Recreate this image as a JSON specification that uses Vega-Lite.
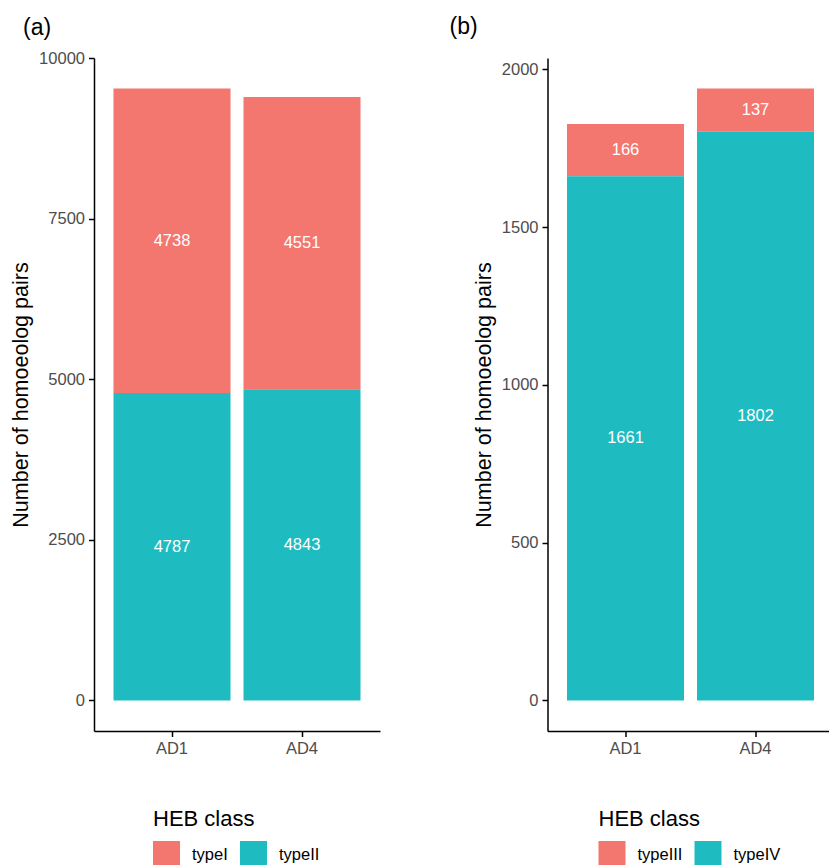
{
  "$schema": "https://vega.github.io/schema/vega-lite/v6.json",
  "background": "white",
  "padding": {"left": 10, "top": 16, "right": 0, "bottom": 0},
  "datasets": {
    "a": [
      {"sample": "AD1", "type": "typeI", "n": 4738},
      {"sample": "AD1", "type": "typeII", "n": 4787},
      {"sample": "AD4", "type": "typeI", "n": 4551},
      {"sample": "AD4", "type": "typeII", "n": 4843}
    ],
    "b": [
      {"sample": "AD1", "type": "typeIII", "n": 166},
      {"sample": "AD1", "type": "typeIV", "n": 1661},
      {"sample": "AD4", "type": "typeIII", "n": 137},
      {"sample": "AD4", "type": "typeIV", "n": 1802}
    ]
  },
  "bounds": "flush",
  "spacing": 167.5,
  "resolve": {"scale": {"color": "independent", "y": "independent", "x": "independent"}, "legend": {"color": "independent"}},
  "hconcat": [
    {
      "title": {"text": "(a)", "anchor": "start", "frame": "group", "dx": -71},
      "width": 286,
      "height": 673,
      "data": {"name": "a"},
      "transform": [
        {"stack": "n", "groupby": ["sample"], "sort": [{"field": "type", "order": "descending"}], "as": ["y0", "y1"]},
        {"calculate": "(datum.y0 + datum.y1) / 2", "as": "ymid"}
      ],
      "encoding": {
        "x": {"field": "sample", "type": "nominal", "scale": {"paddingInner": 0.1, "paddingOuter": 0.15}, "axis": {"title": null, "labelAngle": 0}}
      },
      "layer": [
        {
          "mark": {"type": "bar"},
          "encoding": {
            "y": {"field": "y0", "type": "quantitative", "title": "Number of homoeolog pairs", "scale": {"domain": [-476.25, 10001.25], "nice": false, "zero": false}, "axis": {"values": [0, 2500, 5000, 7500, 10000], "format": "d"}},
            "y2": {"field": "y1"},
            "color": {"field": "type", "type": "nominal", "scale": {"domain": ["typeI", "typeII"], "range": ["#F3766F", "#1EBCC1"]}, "legend": {"title": "HEB class", "orient": "none", "legendX": 59, "legendY": 751, "direction": "horizontal"}}
          }
        },
        {
          "mark": {"type": "text", "color": "white", "fontSize": 16.5, "baseline": "middle", "align": "center"},
          "encoding": {
            "y": {"field": "ymid", "type": "quantitative", "title": "Number of homoeolog pairs"},
            "text": {"field": "n", "type": "quantitative", "format": "d"}
          }
        }
      ]
    },
    {
      "title": {"text": "(b)", "anchor": "start", "frame": "group", "dx": -98, "dy": -9},
      "width": 286,
      "height": 673,
      "data": {"name": "b"},
      "transform": [
        {"stack": "n", "groupby": ["sample"], "sort": [{"field": "type", "order": "descending"}], "as": ["y0", "y1"]},
        {"calculate": "(datum.y0 + datum.y1) / 2", "as": "ymid"}
      ],
      "encoding": {
        "x": {"field": "sample", "type": "nominal", "scale": {"paddingInner": 0.1, "paddingOuter": 0.15}, "axis": {"title": null, "labelAngle": 0}}
      },
      "layer": [
        {
          "mark": {"type": "bar"},
          "encoding": {
            "y": {"field": "y0", "type": "quantitative", "title": "Number of homoeolog pairs", "scale": {"domain": [-96.95, 2035.95], "nice": false, "zero": false}, "axis": {"values": [0, 500, 1000, 1500, 2000], "format": "d"}},
            "y2": {"field": "y1"},
            "color": {"field": "type", "type": "nominal", "scale": {"domain": ["typeIII", "typeIV"], "range": ["#F3766F", "#1EBCC1"]}, "legend": {"title": "HEB class", "orient": "none", "legendX": 51, "legendY": 751, "direction": "horizontal"}}
          }
        },
        {
          "mark": {"type": "text", "color": "white", "fontSize": 16.5, "baseline": "middle", "align": "center"},
          "encoding": {
            "y": {"field": "ymid", "type": "quantitative", "title": "Number of homoeolog pairs"},
            "text": {"field": "n", "type": "quantitative", "format": "d"}
          }
        }
      ]
    }
  ],
  "config": {
    "font": "Liberation Sans",
    "view": {"stroke": null},
    "axis": {
      "grid": false,
      "domainColor": "black",
      "domainWidth": 1.5,
      "tickColor": "black",
      "tickWidth": 1.5,
      "tickSize": 5.5,
      "labelColor": "#4D4D4D",
      "labelFontSize": 16.5,
      "labelPadding": 4,
      "titleFontSize": 21.5,
      "titleFontWeight": "normal",
      "titleColor": "black",
      "titlePadding": 6
    },
    "legend": {
      "titleFontSize": 22,
      "titleFontWeight": "normal",
      "titleColor": "black",
      "titleOrient": "top",
      "titlePadding": 10,
      "labelFontSize": 16.5,
      "labelColor": "black",
      "symbolType": "square",
      "symbolSize": 729,
      "symbolStrokeWidth": 0,
      "symbolOpacity": 1,
      "labelOffset": 12,
      "columnPadding": 12,
      "padding": 0
    },
    "title": {
      "fontSize": 23,
      "fontWeight": "normal",
      "color": "black",
      "offset": 10
    }
  }
}
